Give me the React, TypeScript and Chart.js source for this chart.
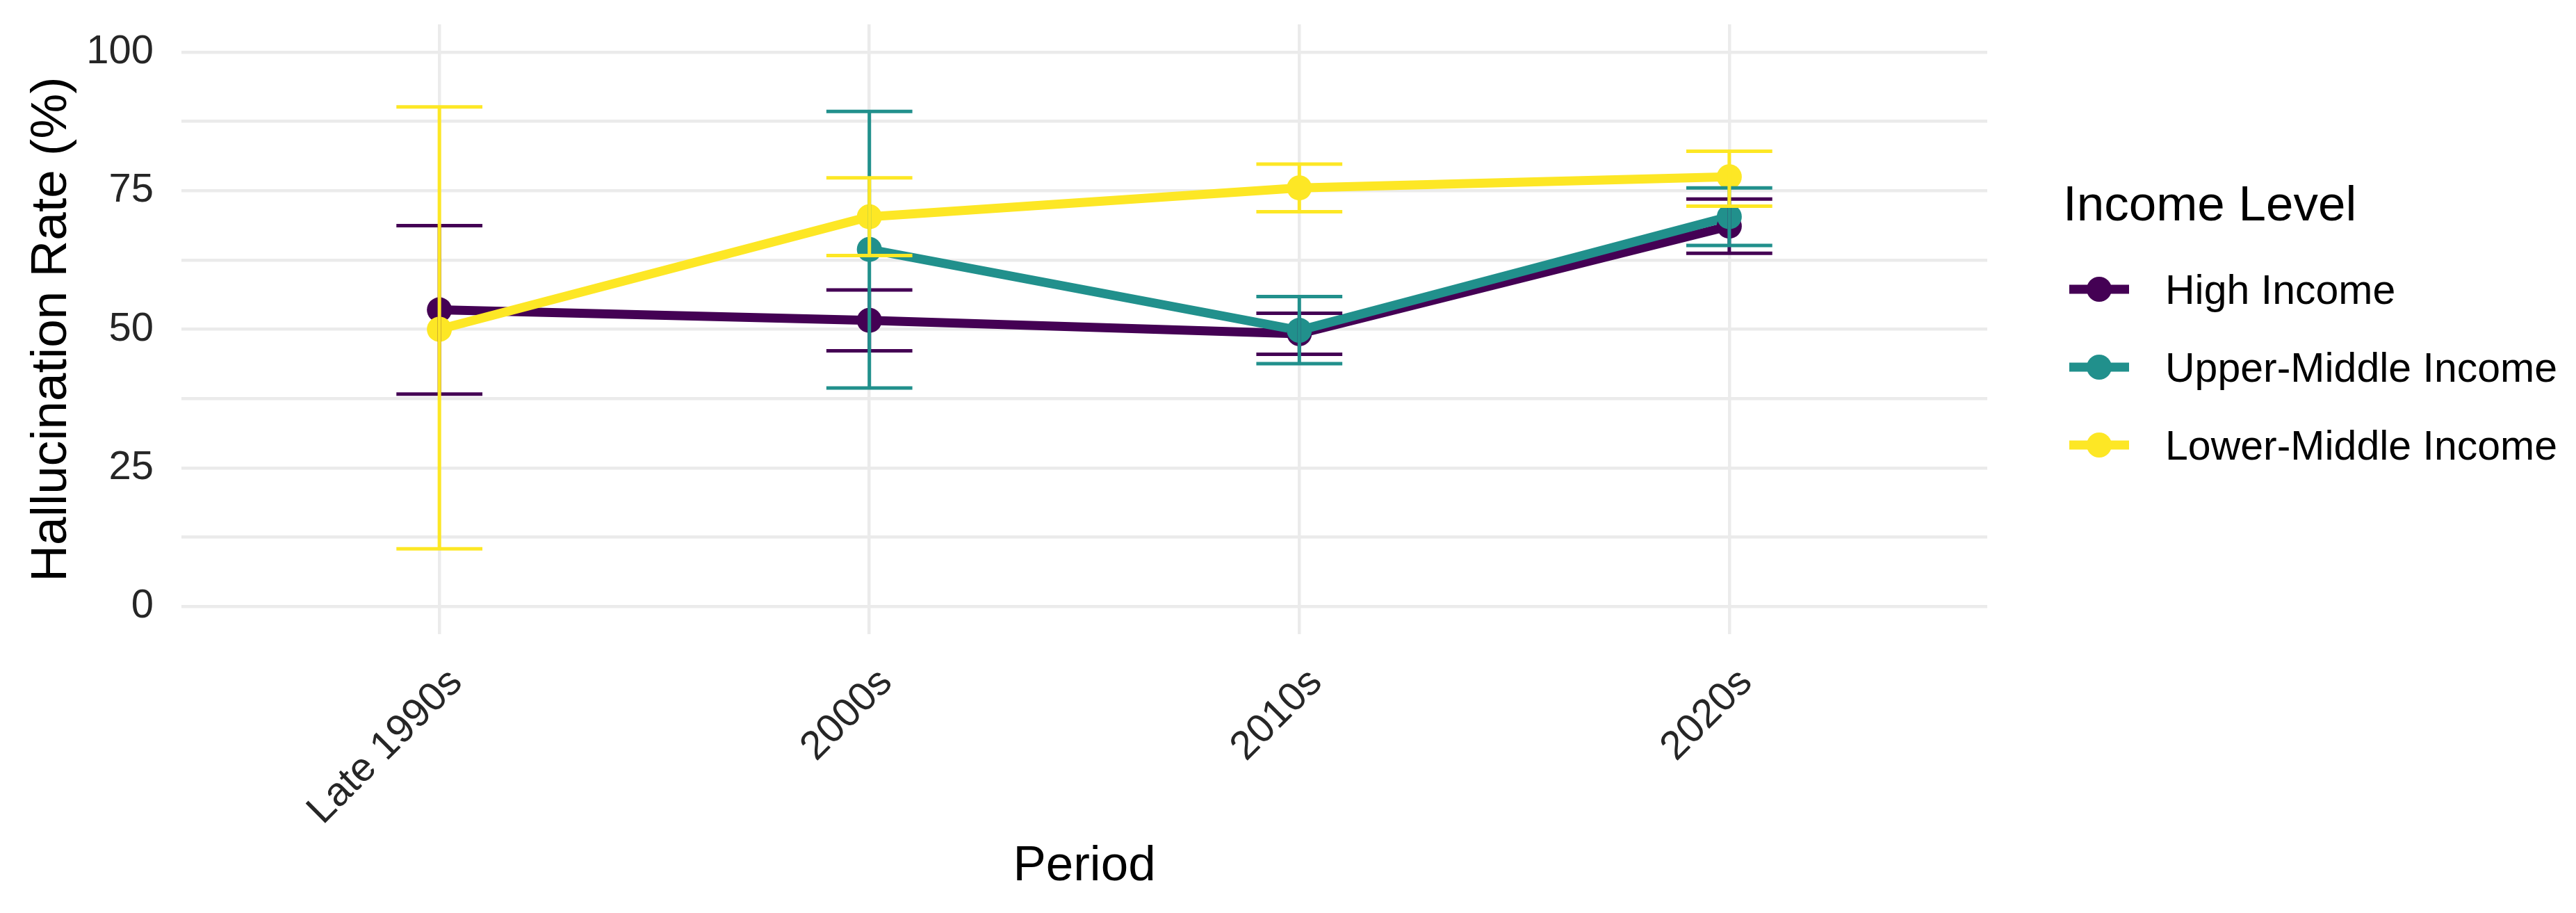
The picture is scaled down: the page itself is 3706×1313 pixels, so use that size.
import React, { useEffect, useRef } from "react";
import { Chart, registerables } from "chart.js";

Chart.register(...registerables);

const FONT = "'Liberation Sans', Arial, Helvetica, sans-serif";

const categories = ["Late 1990s", "2000s", "2010s", "2020s"];
const seriesLabels = ["High Income", "Upper-Middle Income", "Lower-Middle Income"];
const seriesColors = ["#440154", "#21908C", "#FDE725"];
const legendTitle = "Income Level";
const xTitle = "Period";
const yTitle = "Hallucination Rate (%)";

const highIncome = [53.5, 51.6, 49.2, 68.6];
const highIncomeLow = [38.3, 46.1, 45.5, 63.7];
const highIncomeHigh = [68.7, 57.1, 52.9, 73.5];

const upperMiddle = [null, 64.4, 49.8, 70.3];
const upperMiddleLow = [null, 39.4, 43.8, 65.1];
const upperMiddleHigh = [null, 89.3, 55.9, 75.5];

const lowerMiddle = [50.0, 70.3, 75.5, 77.5];
const lowerMiddleLow = [10.4, 63.3, 71.2, 72.2];
const lowerMiddleHigh = [90.1, 77.3, 79.8, 82.1];

const yGridValues = [0, 12.5, 25, 37.5, 50, 62.5, 75, 87.5, 100];
const yMajorTicks = [0, 25, 50, 75, 100];
const yTickLabels = ["0", "25", "50", "75", "100"];

type Series = {
  label: string;
  color: string;
  mean: (number | null)[];
  lo: (number | null)[];
  hi: (number | null)[];
};

const series: Series[] = [
  { label: seriesLabels[0], color: seriesColors[0], mean: highIncome, lo: highIncomeLow, hi: highIncomeHigh },
  { label: seriesLabels[1], color: seriesColors[1], mean: upperMiddle, lo: upperMiddleLow, hi: upperMiddleHigh },
  { label: seriesLabels[2], color: seriesColors[2], mean: lowerMiddle, lo: lowerMiddleLow, hi: lowerMiddleHigh },
];

const toPoints = (vals: (number | null)[]) =>
  vals.map((v, i) => ({ x: i, y: v })).filter((p) => p.y !== null);

const errorBarPlugin = {
  id: "errorBars",
  afterDatasetsDraw(chart: any) {
    const { ctx } = chart;
    const x = chart.scales.x;
    const y = chart.scales.y;
    ctx.save();
    ctx.lineCap = "butt";
    series.forEach((s) => {
      ctx.strokeStyle = s.color;
      ctx.lineWidth = 5;
      s.mean.forEach((m, i) => {
        if (m === null || s.lo[i] === null || s.hi[i] === null) return;
        const px = x.getPixelForValue(i);
        const half = x.getPixelForValue(i + 0.1) - px;
        const pLo = y.getPixelForValue(s.lo[i]);
        const pHi = y.getPixelForValue(s.hi[i]);
        ctx.beginPath();
        ctx.moveTo(px, pHi);
        ctx.lineTo(px, pLo);
        ctx.moveTo(px - half, pHi);
        ctx.lineTo(px + half, pHi);
        ctx.moveTo(px - half, pLo);
        ctx.lineTo(px + half, pLo);
        ctx.stroke();
      });
    });
    ctx.restore();
  },
};

const legendPlugin = {
  id: "customLegend",
  afterDraw(chart: any) {
    const { ctx, chartArea } = chart;
    const x0 = chartArea.right + 109;
    ctx.save();
    ctx.textAlign = "left";
    ctx.textBaseline = "alphabetic";
    ctx.fillStyle = "#000000";
    ctx.font = `71px ${FONT}`;
    ctx.fillText(legendTitle, x0, 317);
    series.forEach((s, i) => {
      const cy = 416 + i * 112;
      ctx.strokeStyle = s.color;
      ctx.lineWidth = 13;
      ctx.lineCap = "butt";
      ctx.beginPath();
      ctx.moveTo(x0 + 9, cy);
      ctx.lineTo(x0 + 95, cy);
      ctx.stroke();
      ctx.fillStyle = s.color;
      ctx.beginPath();
      ctx.arc(x0 + 52, cy, 18, 0, Math.PI * 2);
      ctx.fill();
      ctx.fillStyle = "#000000";
      ctx.font = `59px ${FONT}`;
      ctx.fillText(s.label, x0 + 147, cy + 21);
    });
    ctx.restore();
  },
};

export default function App() {
  const canvasRef = useRef<HTMLCanvasElement | null>(null);

  useEffect(() => {
    if (!canvasRef.current) return;
    const lineSets = series.map((s, idx) => ({
      label: s.label,
      data: toPoints(s.mean),
      borderColor: s.color,
      backgroundColor: s.color,
      borderWidth: 13,
      borderCapStyle: "butt",
      borderJoinStyle: "round",
      pointRadius: 0,
      pointHoverRadius: 0,
      showLine: true,
      tension: 0,
      order: 6 - idx,
    }));
    const pointSets = series.map((s, idx) => ({
      label: s.label + " points",
      data: toPoints(s.mean),
      borderColor: s.color,
      backgroundColor: s.color,
      pointBackgroundColor: s.color,
      pointBorderWidth: 0,
      pointRadius: 18,
      pointHoverRadius: 18,
      showLine: false,
      order: 3 - idx,
    }));

    const chart = new Chart(canvasRef.current, {
      type: "line",
      data: { datasets: [...lineSets, ...pointSets] as any },
      plugins: [errorBarPlugin, legendPlugin],
      options: {
        responsive: false,
        animation: false,
        devicePixelRatio: 1,
        events: [],
        layout: { padding: { top: 35, right: 847, left: 0, bottom: 0 } },
        plugins: { legend: { display: false }, tooltip: { enabled: false } },
        scales: {
          x: {
            type: "linear",
            min: -0.6,
            max: 3.6,
            afterBuildTicks: (s: any) => {
              s.ticks = categories.map((_, i) => ({ value: i }));
            },
            afterFit: (s: any) => {
              s.height = 401;
              s.paddingLeft = 0;
              s.paddingRight = 0;
            },
            grid: { color: "#EBEBEB", lineWidth: 4.5, drawTicks: false },
            border: { display: false },
            ticks: {
              autoSkip: false,
              minRotation: 45,
              maxRotation: 45,
              padding: 36,
              labelOffset: 24,
              color: "#262626",
              font: { family: FONT, size: 58 },
              callback: (v: any) => categories[Number(v)] ?? "",
            },
            title: {
              display: true,
              text: xTitle,
              color: "#000000",
              font: { family: FONT, size: 71 },
              padding: { top: 0, bottom: 24 },
            },
          },
          y: {
            type: "linear",
            min: -5,
            max: 105,
            afterBuildTicks: (s: any) => {
              s.ticks = yGridValues.map((v) => ({ value: v }));
            },
            afterFit: (s: any) => {
              s.width = 261;
              s.paddingTop = 0;
              s.paddingBottom = 0;
            },
            grid: { color: "#EBEBEB", lineWidth: 4.5, drawTicks: false },
            border: { display: false },
            ticks: {
              autoSkip: false,
              padding: 40,
              color: "#262626",
              font: { family: FONT, size: 58 },
              callback: (v: any) => {
                const k = yMajorTicks.indexOf(Number(v));
                return k >= 0 ? yTickLabels[k] : "";
              },
            },
            title: {
              display: true,
              text: yTitle,
              color: "#000000",
              font: { family: FONT, size: 73 },
              padding: { top: 31, bottom: 0 },
            },
          },
        },
      } as any,
    });
    return () => chart.destroy();
  }, []);

  return (
    <div style={{ position: "fixed", left: 0, top: 0, width: 3706, height: 1313, background: "#ffffff" }}>
      <canvas ref={canvasRef} width={3706} height={1313} style={{ display: "block" }} />
    </div>
  );
}
